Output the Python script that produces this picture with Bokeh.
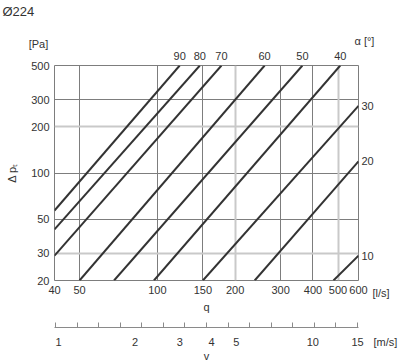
from bokeh.plotting import figure
from bokeh.models import (FixedTicker, LogAxis, Range1d, Grid, Label, ColumnDataSource)
from bokeh.embed import file_html
from bokeh.resources import INLINE

# ---------------- data ----------------
title_text = "Ø224"
q_ticks = [40, 50, 100, 150, 200, 300, 400, 500, 600]      # l/s
dp_ticks = [20, 30, 50, 100, 200, 300, 500]                # Pa
v_ticks = [1, 2, 3, 4, 5, 10, 15]                          # m/s

alpha = [90, 80, 70, 60, 50, 40, 30, 20, 10]               # damper angle
q_start = [40, 40, 40, 50, 68, 97, 150, 238, 480]
dp_start = [57, 43, 29, 20, 20, 20, 20, 20, 20]
q_end = [122, 146, 177, 260, 364, 510, 600, 600, 600]
dp_end = [500, 500, 500, 500, 500, 500, 273, 119, 29]

q_lo, q_hi = 40, 600
dp_lo, dp_hi = 20, 500
v_lo, v_hi = 0.964, 15.13
n_ruler = 15

FONT = "Liberation Sans"
TXT = "#333333"
GRID_DARK = "#7d7d7d"
GRID_LIGHT = "#c9c9c9"

p = figure(width=400, height=364, x_axis_type="log", y_axis_type="log",
           x_range=Range1d(q_lo, q_hi), y_range=Range1d(dp_lo, dp_hi),
           output_backend="svg", toolbar_location=None,
           min_border_left=54, min_border_right=42, min_border_top=65,
           min_border_bottom=82)
p.outline_line_color = GRID_DARK
p.outline_line_width = 1
p.background_fill_color = "white"
p.border_fill_color = "white"

# ---------------- grids ----------------
p.xgrid.ticker = FixedTicker(ticks=[50, 100, 150, 300, 400])
p.xgrid.grid_line_color = GRID_DARK
p.ygrid.ticker = FixedTicker(ticks=[50, 100, 300])
p.ygrid.grid_line_color = GRID_DARK
p.add_layout(Grid(dimension=0, ticker=FixedTicker(ticks=[200, 500]),
                  grid_line_color=GRID_LIGHT, grid_line_width=2))
p.add_layout(Grid(dimension=1, ticker=FixedTicker(ticks=[30, 200]),
                  grid_line_color=GRID_LIGHT, grid_line_width=2))

# ---------------- main axes ----------------
def style_axis(ax):
    ax.axis_line_color = None
    ax.major_tick_out = 0
    ax.major_tick_in = 0
    ax.minor_tick_line_color = None
    ax.major_label_text_font = FONT
    ax.major_label_text_font_size = "11px"
    ax.major_label_text_color = TXT
    ax.axis_label_text_font = FONT
    ax.axis_label_text_font_size = "11px"
    ax.axis_label_text_font_style = "normal"
    ax.axis_label_text_color = TXT

xax = p.xaxis[0]
style_axis(xax)
xax.ticker = FixedTicker(ticks=q_ticks)
xax.major_label_overrides = {t: str(t) for t in q_ticks}
xax.major_label_standoff = 5
xax.axis_label = "q"
xax.axis_label_standoff = 4

yax = p.yaxis[0]
style_axis(yax)
yax.ticker = FixedTicker(ticks=dp_ticks)
yax.major_label_overrides = {t: str(t) for t in dp_ticks}
yax.major_label_standoff = 5
yax.axis_label = "Δ pₜ"
yax.axis_label_standoff = 10


def side_label(text, x, y, dx, dy, align="left", baseline="middle", size="11px"):
    return Label(x=x, y=y, x_offset=dx, y_offset=dy, text=text, text_align=align,
                 text_baseline=baseline, text_font=FONT, text_font_size=size,
                 text_color=TXT)

# unit of q, also acts as spacer between q axis and velocity ruler
p.add_layout(side_label("[l/s]", q_hi, dp_lo, 14, -12), "below")

# velocity axis (ruler ticks + labels)
p.extra_x_ranges = {"v": Range1d(v_lo, v_hi)}
ruler = [v_lo * (v_hi / v_lo) ** ((i + 0.05) / (n_ruler - 1 + 0.1)) for i in range(n_ruler)]
vax = LogAxis(x_range_name="v", ticker=FixedTicker(ticks=v_ticks, minor_ticks=ruler))
style_axis(vax)
vax.major_label_overrides = {t: str(t) for t in v_ticks}
vax.axis_line_color = "#8a8a8a"
vax.minor_tick_in = 5
vax.minor_tick_out = 0
vax.minor_tick_line_color = "#8a8a8a"
vax.major_label_standoff = 10
vax.axis_label = "v"
vax.axis_label_standoff = 1
p.add_layout(vax, "below")

# ---------------- curves ----------------
src = ColumnDataSource(dict(alpha=alpha, q0=q_start, dp0=dp_start, q1=q_end, dp1=dp_end))
p.segment(x0="q0", y0="dp0", x1="q1", y1="dp1", source=src,
          line_color="#333333", line_width=2)

# curve labels at the line ends, via axes above / right
top_idx = [i for i in range(len(alpha)) if dp_end[i] >= dp_hi]
right_idx = [i for i in range(len(alpha)) if dp_end[i] < dp_hi]

top_ax = LogAxis(ticker=FixedTicker(ticks=[q_end[i] for i in top_idx]))
style_axis(top_ax)
top_ax.major_label_overrides = {q_end[i]: str(alpha[i]) for i in top_idx}
top_ax.major_label_standoff = 6
p.add_layout(top_ax, "above")

right_ax = LogAxis(ticker=FixedTicker(ticks=[dp_end[i] for i in right_idx]))
style_axis(right_ax)
right_ax.major_label_overrides = {dp_end[i]: str(alpha[i]) for i in right_idx}
right_ax.major_label_standoff = 3
p.add_layout(right_ax, "right")

# ---------------- free texts (side panels, so they are not clipped) ----------------
p.add_layout(side_label("α [°]", q_hi, dp_hi, -4, 25), "above")
p.add_layout(side_label("[Pa]", q_lo, dp_hi, -16, 22, align="center"), "above")
p.add_layout(side_label(title_text, q_lo, dp_hi, -52, 62, baseline="top", size="13px"), "above")
p.add_layout(side_label("[m/s]", q_hi, dp_lo, 15, -61), "right")

open("out.html", "w").write(file_html(p, INLINE))
